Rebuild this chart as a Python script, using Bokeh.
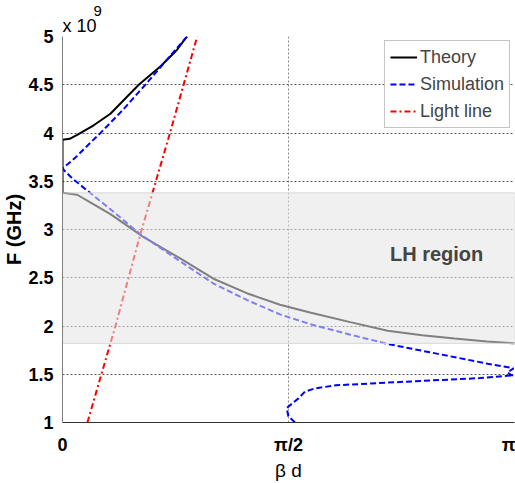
import numpy as np
from bokeh.plotting import figure
from bokeh.models import FixedTicker, Label, Legend, LegendItem, Title
from bokeh.embed import file_html
from bokeh.resources import INLINE

PI = np.pi

# Theory curve (upper branch reversed, gap at beta d = 0, lower LH branch), F in 1e9 Hz
theory_x = [0.865, 0.795, 0.68, 0.53, 0.333, 0.217, 0.102, 0.05, 0.0, 0.0,
            0.102, 0.217, 0.333, 0.449, 0.564, 0.68, 0.818, 1.049, 1.281, 1.512,
            1.72, 2.0, 2.26, 2.5, 2.725, 2.95, 3.1416]
theory_y = [5.0, 4.86, 4.69, 4.5, 4.20, 4.08, 3.98, 3.94, 3.93, 3.38,
            3.36, 3.26, 3.16, 3.04, 2.92, 2.82, 2.70, 2.49, 2.34, 2.22,
            2.14, 2.04, 1.95, 1.905, 1.87, 1.84, 1.82]

# Simulation curve
sim_x = [0.865, 0.72, 0.576, 0.42, 0.264, 0.194, 0.1, 0.0,
         0.067, 0.2, 0.333, 0.541, 0.68, 0.818, 1.049, 1.281, 1.512, 1.72, 2.0,
         2.263, 2.61, 2.955, 3.107, 3.135, 3.093, 3.121, 3.135,
         2.90, 2.621, 2.145, 1.90, 1.755, 1.685, 1.64, 1.558, 1.57, 1.616]
sim_y = [5.0, 4.75, 4.5, 4.24, 4.0, 3.90, 3.76, 3.63,
         3.53, 3.37, 3.21, 2.95, 2.81, 2.67, 2.44, 2.27, 2.12, 2.02, 1.91,
         1.813, 1.711, 1.609, 1.571, 1.561, 1.52, 1.49, 1.49,
         1.46, 1.44, 1.405, 1.385, 1.354, 1.32, 1.25, 1.15, 1.065, 1.0]

# Light line
light_x = [0.173, 0.368, 0.541, 0.749, 0.936]
light_y = [1.0, 2.0, 2.95, 4.01, 5.0]

# LH region band
band_bottom = 1.82
band_top = 3.38

y_ticks = [1, 1.5, 2, 2.5, 3, 3.5, 4, 4.5, 5]
y_tick_labels = ["1", "1.5", "2", "2.5", "3", "3.5", "4", "4.5", "5"]
x_ticks = [0, PI / 2, PI]
x_tick_labels = ["0", "π/2", "π"]

p = figure(width=515, height=483, output_backend="svg", toolbar_location=None,
           x_range=(0, PI), y_range=(1, 5),
           min_border_left=62, min_border_right=1, min_border_top=36, min_border_bottom=55)
p.outline_line_color = None
p.background_fill_color = "white"

FONT = "Liberation Sans"

# Axes
p.yaxis.ticker = FixedTicker(ticks=y_ticks)
p.yaxis.major_label_overrides = {t: l for t, l in zip(y_ticks, y_tick_labels)}
p.xaxis.ticker = FixedTicker(ticks=x_ticks)
p.xaxis.major_label_overrides = {t: l for t, l in zip(x_ticks, x_tick_labels)}
for ax in (p.xaxis[0], p.yaxis[0]):
    ax.major_tick_line_color = None
    ax.minor_tick_line_color = None
    ax.major_label_text_font = FONT
    ax.major_label_text_font_size = "18px"
    ax.major_label_text_font_style = "bold"
    ax.major_label_text_color = "black"
    ax.axis_label_text_font = FONT
    ax.axis_label_text_color = "black"
p.yaxis.axis_line_color = "#808080"
p.xaxis.axis_line_color = "#333333"
p.yaxis.major_label_standoff = 3
p.xaxis.major_label_standoff = 6
p.yaxis.axis_label = "F (GHz)"
p.yaxis.axis_label_text_font_size = "20px"
p.yaxis.axis_label_text_font_style = "bold"
p.yaxis.axis_label_standoff = 0
p.xaxis.axis_label = "β d"
p.xaxis.axis_label_text_font_size = "19px"
p.xaxis.axis_label_text_font_style = "normal"
p.xaxis.axis_label_standoff = 2

# Grid
p.xgrid.ticker = FixedTicker(ticks=[PI / 2])
p.ygrid.ticker = FixedTicker(ticks=y_ticks[1:])
p.xgrid.grid_line_color = "#888888"
p.ygrid.grid_line_color = "#555555"
p.xgrid.grid_line_dash = "2 2"
p.ygrid.grid_line_dash = "2 2"
p.xgrid.grid_line_width = 1
p.ygrid.grid_line_width = 1

r_th = p.line(theory_x, theory_y, line_color="black", line_width=2)
r_sim = p.line(sim_x, sim_y, line_color="#0000ff", line_width=2, line_dash="6 3")
r_light = p.line(light_x, light_y, line_color="#ff0000", line_width=2, line_dash="6 3 2 3")

# translucent band over the curves
p.quad(left=[0], right=[PI], bottom=[band_bottom], top=[band_top],
       fill_color="#e5e5e5", fill_alpha=0.56, line_color="#d8d8d8", line_width=1)

p.add_layout(Label(x=2.60, y=2.745, text="LH region", text_font=FONT,
                   text_font_size="20px", text_font_style="bold",
                   text_align="center", text_baseline="middle"))

# exponent label "x 10^9" as two stacked titles above the frame
t_base = Title(text="x 10", align="left", offset=0, standoff=2,
               text_font=FONT, text_font_size="18px", text_font_style="normal",
               text_color="black")
t_exp = Title(text="9", align="left", offset=31, standoff=-7,
              text_font=FONT, text_font_size="15px", text_font_style="normal",
              text_color="black")
p.add_layout(t_base, "above")
p.add_layout(t_exp, "above")

legend = Legend(items=[LegendItem(label="Theory", renderers=[r_th]),
                       LegendItem(label="Simulation", renderers=[r_sim]),
                       LegendItem(label="Light line", renderers=[r_light])],
                location="top_right")
legend.label_text_font = FONT
legend.label_text_font_size = "18px"
legend.glyph_width = 27
legend.glyph_height = 22
legend.label_height = 22
legend.label_standoff = 3
legend.spacing = 5
legend.padding = 5
legend.margin = 4
legend.border_line_color = "#888888"
legend.border_line_width = 1
legend.background_fill_alpha = 1
p.add_layout(legend)

open("out.html", "w").write(file_html(p, INLINE))
